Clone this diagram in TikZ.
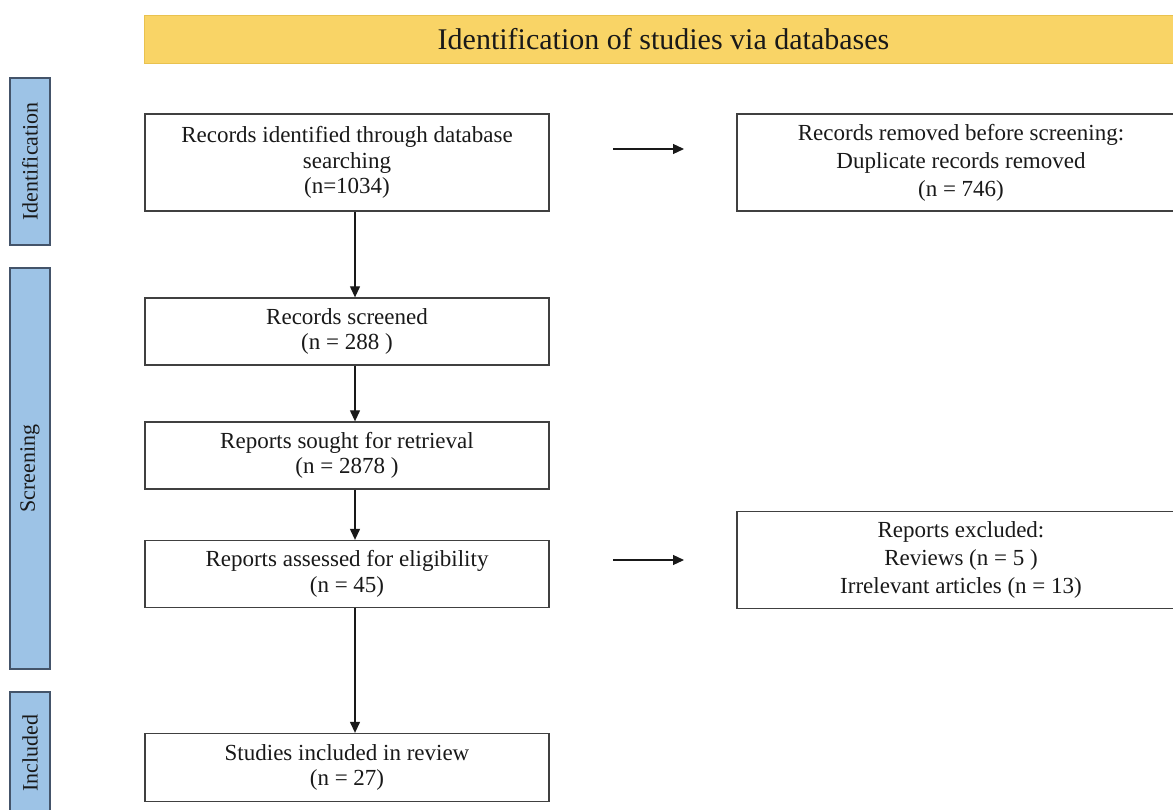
\documentclass[tikz,border=0pt]{standalone}
\usepackage{fontspec}
\setmainfont{Liberation Serif}
\usetikzlibrary{arrows.meta}
\definecolor{bannerY}{HTML}{F9D466}
\definecolor{bannerB}{HTML}{E9C24F}
\definecolor{barB}{HTML}{9DC3E6}
\definecolor{barEdge}{HTML}{44546A}
\definecolor{boxEdge}{HTML}{404040}
\tikzset{
  flowbox/.style={draw=boxEdge, line width=1.3pt, fill=white, align=center, inner sep=2pt,
    font=\fontsize{23}{25.5}\selectfont, text=black!90},
  widebox/.style={flowbox, font=\fontsize{23}{28}\selectfont},
  sidebar/.style={draw=barEdge, line width=1.2pt, fill=barB, rotate=90, align=center,
    inner sep=0pt, font=\fontsize{22}{26}\selectfont, text=black!90},
  flowarrow/.style={draw=black!90, line width=1.2pt, -{Triangle[length=11pt,width=10pt]}}
}
\begin{document}
\begin{tikzpicture}[x=1pt,y=-1pt]
\useasboundingbox (0,0) rectangle (1173,810);
\clip (0,0) rectangle (1173,810);
% banner
\node[fill=bannerY, draw=bannerB, line width=0.8pt, minimum width=1039pt, minimum height=48pt,
  inner sep=0pt, font=\fontsize{30}{34}\selectfont, text=black!90] (banner) at (663.5,39)
  {Identification of studies via databases};
% side bars
\node[sidebar, minimum width=167pt, minimum height=40pt] (sid) at (30,161.5) {Identification};
\node[sidebar, minimum width=401pt, minimum height=40pt] (sscr) at (30,468.5) {Screening};
\node[sidebar, minimum width=122pt, minimum height=40pt] (sinc) at (30,753) {Included};
% boxes
\node[flowbox, minimum width=404pt, minimum height=97pt] (b1) at (347,162.5)
  {Records identified through database\\searching\\(n=1034)};
\node[widebox, minimum width=448pt, minimum height=97pt] (b2) at (961,162.5)
  {Records removed before screening:\\Duplicate records removed\\(n = 746)};
\node[flowbox, minimum width=404pt, minimum height=67pt] (b3) at (347,331.5)
  {Records screened\\(n = 288 )};
\node[flowbox, minimum width=404pt, minimum height=67pt] (b4) at (347,455.5)
  {Reports sought for retrieval\\(n = 2878 )};
\node[flowbox, minimum width=404pt, minimum height=67pt] (b5) at (347,574)
  {Reports assessed for eligibility\\(n = 45)};
\node[widebox, minimum width=448pt, minimum height=97pt] (b6) at (961,560)
  {Reports excluded:\\Reviews (n = 5 )\\Irrelevant articles (n = 13)};
\node[flowbox, minimum width=404pt, minimum height=68pt] (b7) at (347,767.5)
  {Studies included in review\\(n = 27)};
% arrows
\coordinate (ax) at (355,0);
\draw[flowarrow] (b1.south -| ax) -- (b3.north -| ax);
\draw[flowarrow] (b3.south -| ax) -- (b4.north -| ax);
\draw[flowarrow] (b4.south -| ax) -- (b5.north -| ax);
\draw[flowarrow] (b5.south -| ax) -- (b7.north -| ax);
\coordinate (h1s) at (613,149);
\coordinate (h1e) at (684,149);
\coordinate (h2s) at (613,560);
\coordinate (h2e) at (684,560);
\draw[flowarrow] (h1s) -- (h1e);
\draw[flowarrow] (h2s) -- (h2e);
\end{tikzpicture}
\end{document}
